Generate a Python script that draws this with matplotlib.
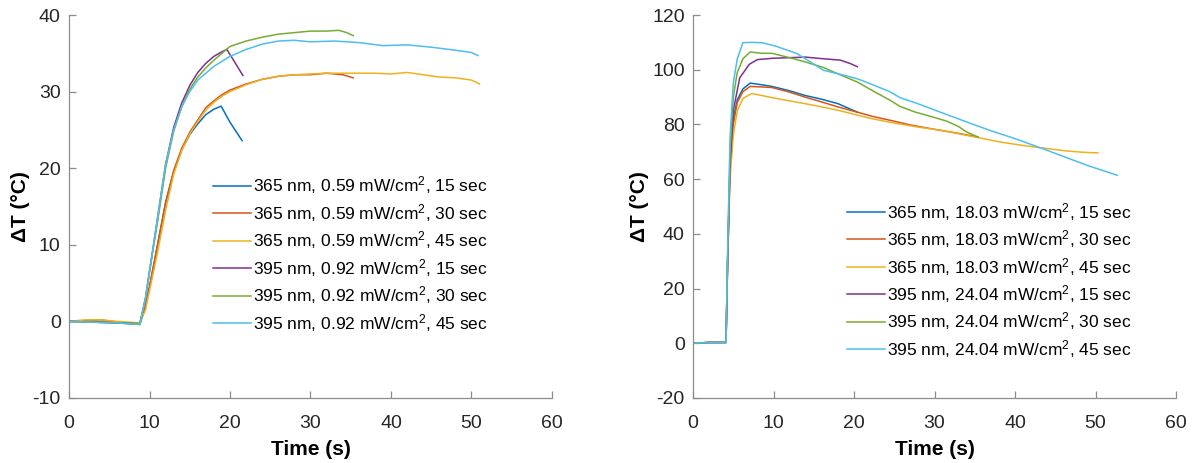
import numpy as np
import matplotlib
matplotlib.use('Agg')
import matplotlib.pyplot as plt

plt.rcParams['font.family'] = ['Liberation Sans', 'DejaVu Sans']
plt.rcParams['mathtext.fontset'] = 'custom'
plt.rcParams['mathtext.rm'] = 'Liberation Sans'
plt.rcParams['mathtext.it'] = 'Liberation Sans'
plt.rcParams['axes.unicode_minus'] = False

colors = ['#0072BD', '#D95319', '#EDB120', '#7E2F8E', '#77AC30', '#4DBEEE']

# ---- left panel: 365 nm 0.59 mW/cm2 / 395 nm 0.92 mW/cm2 ----
left_labels = ['365 nm, 0.59 mW/cm$^2$, 15 sec', '365 nm, 0.59 mW/cm$^2$, 30 sec',
               '365 nm, 0.59 mW/cm$^2$, 45 sec', '395 nm, 0.92 mW/cm$^2$, 15 sec',
               '395 nm, 0.92 mW/cm$^2$, 30 sec', '395 nm, 0.92 mW/cm$^2$, 45 sec']

l365_15_t = [0, 3, 6, 8.8, 9.5, 10, 11, 12, 13, 14, 15, 16, 17, 18, 18.9, 20, 21.5]
l365_15_y = [0, 0, -0.2, -0.4, 2, 4.5, 10, 15.5, 19.5, 22.4, 24.4, 25.8, 27.0, 27.7, 28.1, 26, 23.6]

l365_30_t = [0, 2, 4, 6, 8.8, 9.5, 10, 11, 12, 13, 14, 15, 16, 17, 18, 19, 20, 22, 24, 26,
             28, 30, 32, 34, 35.3]
l365_30_y = [0, 0.1, 0.2, -0.1, -0.3, 2, 4.5, 10, 15.5, 19.7, 22.6, 24.7, 26.3, 27.9, 28.8, 29.6,
             30.2, 31.0, 31.6, 32.0, 32.2, 32.2, 32.4, 32.2, 31.8]

l365_45_t = [0, 2, 4, 6, 8.8, 9.5, 10, 11, 12, 13, 14, 15, 16, 17, 18, 19, 20, 22, 24, 26,
             28, 30, 32, 34, 36, 38, 40, 42, 44, 46, 48, 50, 51]
l365_45_y = [0, 0.2, 0.2, 0, -0.2, 1.5, 4, 9, 14.5, 19.2, 22.3, 24.5, 26.1, 27.6, 28.6, 29.4,
             30.0, 30.9, 31.6, 32.0, 32.2, 32.3, 32.4, 32.4, 32.4, 32.4, 32.3, 32.5, 32.2,
             31.9, 31.8, 31.5, 31.0]

l395_15_t = [0, 3, 6, 8.8, 9.5, 10, 11, 12, 13, 14, 15, 16, 17, 18, 19, 19.6, 20.5, 21.6]
l395_15_y = [0, -0.1, -0.2, -0.3, 3, 6.5, 13.5, 20.5, 25.3, 28.5, 30.8, 32.5, 33.7, 34.6, 35.2,
             35.5, 34, 32.1]

l395_30_t = [0, 3, 6, 8.8, 9.5, 10, 11, 12, 13, 14, 15, 16, 17, 18, 19, 20, 22, 24, 26, 28,
             30, 32, 33.5, 34.5, 35.3]
l395_30_y = [0, -0.1, -0.2, -0.3, 3, 6.5, 13, 20, 24.8, 28.0, 30.3, 31.9, 33.1, 34.1,
             35.0, 35.9, 36.6, 37.1, 37.5, 37.7, 37.9, 37.9, 38.0, 37.7, 37.3]

l395_45_t = [0, 3, 6, 8.8, 9.5, 10, 11, 12, 13, 14, 15, 16, 18, 20, 22, 24, 26, 28, 30, 33,
             36, 39, 42, 45, 48, 50, 50.8]
l395_45_y = [0, -0.1, -0.2, -0.4, 3, 6.5, 13.5, 20.5, 25, 28, 30, 31.5, 33.3, 34.6, 35.5,
             36.2, 36.6, 36.7, 36.5, 36.6, 36.4, 36.0, 36.1, 35.8, 35.4, 35.1, 34.7]

# ---- right panel: 365 nm 18.03 mW/cm2 / 395 nm 24.04 mW/cm2 ----
right_labels = ['365 nm, 18.03 mW/cm$^2$, 15 sec', '365 nm, 18.03 mW/cm$^2$, 30 sec',
                '365 nm, 18.03 mW/cm$^2$, 45 sec', '395 nm, 24.04 mW/cm$^2$, 15 sec',
                '395 nm, 24.04 mW/cm$^2$, 30 sec', '395 nm, 24.04 mW/cm$^2$, 45 sec']

r365_15_t = [0, 2, 4.1, 4.3, 4.6, 5, 5.5, 6.2, 7.1, 8.5, 9.8, 12, 13.9, 16, 18, 20.4]
r365_15_y = [0, 0.3, 0.3, 30, 65, 82, 89, 93, 95.1, 94.5, 93.9, 92.3, 90.6, 89.2, 87.6, 84.5]

r365_30_t = [0, 2, 4.1, 4.3, 4.6, 5, 5.5, 6.2, 7.1, 8.5, 9.8, 12, 13.9, 16, 18, 20.4, 22.2,
             24.5, 27, 30, 32.5, 35.4]
r365_30_y = [0, 0.3, 0.3, 30, 65, 80, 88, 92, 93.9, 93.7, 93.5, 91.8, 90, 88.2, 86.4, 84.5,
             83, 81.5, 79.8, 78.2, 77, 75.4]

r365_45_t = [0, 2, 4.1, 4.3, 4.6, 5, 5.5, 6.2, 7.3, 8.5, 9.8, 12, 13.9, 16, 18, 20, 22.2,
             25, 28, 30.7, 34, 38.1, 41, 43.1, 46.4, 48.5, 50.3]
r365_45_y = [0, 0.3, 0.3, 28, 60, 76, 85, 89.5, 91.3, 90.6, 89.8, 88.6, 87.6, 86.4, 85.2,
             83.7, 82.1, 80.5, 79, 77.9, 76, 73.6, 72.3, 71.5, 70.3, 69.8, 69.6]

r395_15_t = [0, 2, 4.1, 4.3, 4.6, 5, 5.8, 7, 8, 10, 12, 14, 16.2, 18.3, 19.5, 20.4]
r395_15_y = [0, 0.3, 0.3, 30, 65, 85, 97, 102, 103.7, 104.2, 104.4, 104.6, 104, 103.5, 102.3,
             101.1]

r395_30_t = [0, 2, 4.1, 4.3, 4.6, 5, 5.5, 6.2, 7.1, 8.5, 9.8, 12, 14, 16.2, 18, 20.4, 22.5,
             24.5, 25.7, 27.5, 29.8, 31.5, 33, 34, 35.4]
r395_30_y = [0, 0.3, 0.3, 32, 70, 90, 99, 104, 106.5, 106, 106, 104.4, 102.8, 100.8, 98.5,
             95.5, 92, 88.8, 86.6, 84.6, 82.7, 81.2, 79.2, 77.2, 75.4]

r395_45_t = [0, 2, 4.1, 4.3, 4.6, 5, 5.5, 6.2, 7.5, 8.7, 10.4, 12.9, 14.5, 16.2, 18.3, 20.4,
             22.5, 24.5, 25.7, 28, 30.7, 34, 37, 40, 43.1, 46, 49, 52.7]
r395_45_y = [0, 0.3, 0.3, 34, 75, 95, 104, 109.9, 110, 109.8, 108.5, 105.9, 103, 99.8, 98.3,
             96.7, 94.3, 91.9, 89.8, 87.5, 84.5, 80.9, 77.7, 74.8, 71.5, 68.3, 65, 61.4]

left_series = [(l365_15_t, l365_15_y), (l365_30_t, l365_30_y), (l365_45_t, l365_45_y),
               (l395_15_t, l395_15_y), (l395_30_t, l395_30_y), (l395_45_t, l395_45_y)]
right_series = [(r365_15_t, r365_15_y), (r365_30_t, r365_30_y), (r365_45_t, r365_45_y),
                (r395_15_t, r395_15_y), (r395_30_t, r395_30_y), (r395_45_t, r395_45_y)]


def style_axes(ax, ylim, yticks):
    ax.set_xlim(0, 60)
    ax.set_ylim(*ylim)
    ax.set_xticks(np.arange(0, 61, 10))
    ax.set_yticks(yticks)
    for s in ['top', 'right']:
        ax.spines[s].set_visible(False)
    for s in ['left', 'bottom']:
        ax.spines[s].set_color('#8c8c8c')
        ax.spines[s].set_linewidth(0.9)
    ax.tick_params(direction='in', length=5, width=0.9, color='#8c8c8c',
                   labelsize=14, labelcolor='#262626')
    ax.tick_params(axis='x', pad=12)
    ax.tick_params(axis='y', pad=6)
    ax.set_xlabel('Time (s)', fontsize=15, fontweight='bold', labelpad=6)
    ax.set_ylabel('ΔT (°C)', fontsize=15, fontweight='bold', labelpad=2)


fig = plt.figure(figsize=(11.94, 4.63), dpi=100)
ax1 = fig.add_axes([0.0578, 0.1404, 0.4045, 0.8272])
ax2 = fig.add_axes([0.5804, 0.1404, 0.4046, 0.8272])

for (t, y), c, lab in zip(left_series, colors, left_labels):
    ax1.plot(t, y, color=c, lw=1.1, label=lab)
for (t, y), c, lab in zip(right_series, colors, right_labels):
    ax2.plot(t, y, color=c, lw=1.1, label=lab)

style_axes(ax1, (-10, 40), np.arange(-10, 41, 10))
style_axes(ax2, (-20, 120), np.arange(-20, 121, 20))

leg_kw = dict(frameon=False, fontsize=12.5, handlelength=2.2, handletextpad=0.15,
              labelspacing=0.32, borderpad=0, borderaxespad=0, loc='upper left')
ax1.legend(bbox_to_anchor=(0.178, 0.623), bbox_transform=fig.transFigure, **leg_kw)
ax2.legend(bbox_to_anchor=(0.709, 0.5665), bbox_transform=fig.transFigure, **leg_kw)

fig.savefig('out.png', dpi=100)
